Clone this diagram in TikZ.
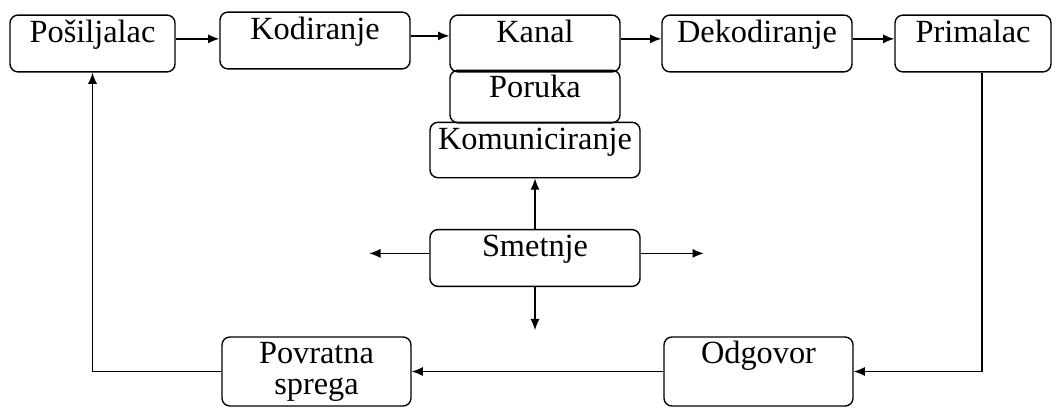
\documentclass[tikz,border=0pt]{standalone}
\usepackage{fontspec}
\setmainfont{Liberation Serif}
\newfontfamily\boxfont{Liberation Serif}
\usetikzlibrary{arrows.meta, positioning}

\begin{document}
\begin{tikzpicture}[
    x=0.025cm, y=-0.025cm,
    box/.style={rectangle, draw, rounded corners=0.2cm, line width=1pt, inner ysep=3.2pt, font=\boxfont\fontsize{23}{22}\selectfont, align=center},
    toptext/.style={text height=16pt, text depth=#1},
    toptext/.default=18pt,
    arrow/.style={-{Latex[length=8pt, width=6.5pt]}, line width=0.9pt}
]
\useasboundingbox (0,0) rectangle (1059,408);

\node[box, toptext, minimum width=4.125cm] (posiljalac) at (92.5,43.5) {Pošiljalac};
\node[box, toptext, minimum width=4.75cm] (kodiranje) at (315,40.5) {Kodiranje};
\node[box, toptext, minimum width=4.25cm] (kanal) at (535,43.5) {Kanal};
\node[box, toptext, minimum width=4.75cm] (dekodiranje) at (757,43.5) {Dekodiranje};
\node[box, toptext, minimum width=3.9cm] (primalac) at (973,43.5) {Primalac};

\node[box, toptext=15pt, minimum width=4.25cm] (poruka) at (535,96.5) {Poruka};
\node[box, toptext=17pt, minimum width=5.25cm] (komuniciranje) at (535,150) {Komuniciranje};
\node[box, toptext, minimum width=5.25cm] (smetnje) at (535,258) {Smetnje};

\node[box, minimum width=4.725cm, minimum height=1.725cm] (povratna) at (316.5,371.5) {Povratna\\sprega};
\node[box, toptext=26.7pt, minimum width=4.725cm] (odgovor) at (758.5,371.5) {Odgovor};

\coordinate[left=1.5cm of smetnje.mid west] (smetnjeleft);
\coordinate[right=1.575cm of smetnje.mid east] (smetnjeright);
\coordinate[below=1.075cm of smetnje.south] (smetnjedown);

\draw[arrow] (posiljalac.mid east) -- (posiljalac.mid east -| kodiranje.west);
\draw[arrow] (kodiranje.mid east) -- (kodiranje.mid east -| kanal.west);
\draw[arrow] (kanal.mid east) -- (dekodiranje.mid west);
\draw[arrow] (dekodiranje.mid east) -- (primalac.mid west);

\draw[arrow] (smetnje.north) -- (komuniciranje.south);
\draw[arrow] (smetnje.mid west) -- (smetnjeleft);
\draw[arrow] (smetnje.mid east) -- (smetnjeright);
\draw[arrow] (smetnje.south) -- (smetnjedown);

\draw[arrow] ([xshift=0.225cm]primalac.south) |- (odgovor.east);
\draw[arrow] (odgovor.west) -- (povratna.east);
\draw[arrow] (povratna.west) -| (posiljalac.south);

\end{tikzpicture}
\end{document}
